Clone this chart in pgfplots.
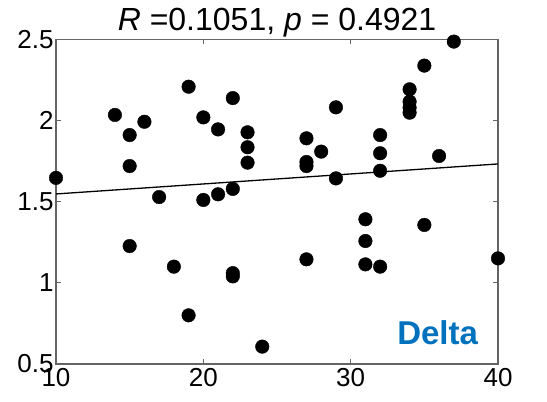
\documentclass[border=0pt]{standalone}
\usepackage{pgfplots}
\pgfplotsset{compat=1.18}
\usepackage{fontspec}
\setmainfont{Liberation Sans}
\definecolor{axgray}{RGB}{100,100,100}
\definecolor{mblue}{RGB}{0,114,189}
\begin{document}
\begin{tikzpicture}
\begin{axis}[
  name=ax,
  scale only axis,
  width=442pt, height=324.5pt,
  xmin=10, xmax=40, ymin=0.5, ymax=2.5,
  xtick={10,20,30,40},
  ytick={0.5,1,1.5,2,2.5},
  yticklabels={0.5,1,1.5,2,2.5},
  /pgf/number format/assume math mode=true,
  tick label style={font=\fontsize{26}{28}\selectfont, text=black},
  xticklabel style={yshift=-1pt},
  yticklabel style={xshift=1pt},
  tick align=inside,
  major tick length=5pt,
  axis line style={axgray, line width=1.2pt},
  every tick/.style={axgray, line width=1pt},
  clip=false,
  title={\fontsize{32}{34}\selectfont \textit{R} =0.1051, \textit{p} = 0.4921},
  title style={at={(0.5,1)}, anchor=base, yshift=2.5pt},
]
\addplot[only marks, mark=*, mark size=6.8pt, black] coordinates {
(10,1.647) (14,2.035) (15,1.911) (15,1.72) (15,1.227) (16,1.993)
(17,1.529) (18,1.10) (19,2.209) (19,0.80) (20,2.02) (20,1.511)
(21,1.946) (21,1.546) (22,2.139) (22,1.579) (22,1.04) (22,1.06)
(23,1.928) (23,1.836) (23,1.741) (24,0.607) (27,1.891) (27,1.745)
(27,1.72) (27,1.145) (28,1.809) (29,2.082) (29,1.644) (31,1.392)
(31,1.258) (31,1.114) (32,1.911) (32,1.799) (32,1.691) (32,1.10)
(34,2.193) (34,2.117) (34,2.08) (34,2.049) (35,2.339) (35,1.357)
(36,1.782) (37,2.487) (40,1.151)
};
\addplot[black, line width=1.3pt] coordinates {(10,1.548) (40,1.733)};
\node[text=mblue, font=\fontsize{33}{35}\selectfont\bfseries] at (axis cs:35.9,0.69) {Delta};
\end{axis}
\path ([xshift=-56pt,yshift=-37pt]ax.south west) rectangle ([xshift=49pt,yshift=39.5pt]ax.north east);
\end{tikzpicture}
\end{document}
